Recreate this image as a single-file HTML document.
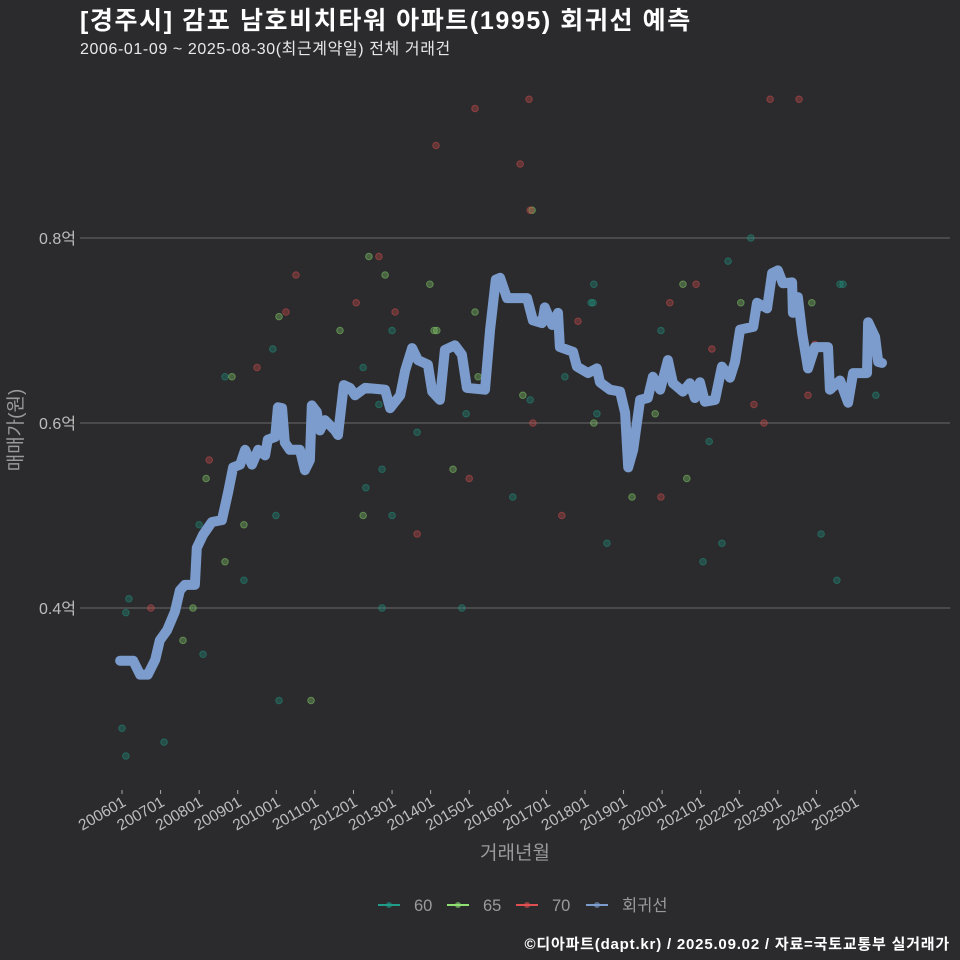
<!DOCTYPE html>
<html><head><meta charset="utf-8">
<style>
html,body{margin:0;padding:0;background:#2b2b2d;}
svg{display:block;font-family:"Liberation Sans","Noto Sans CJK KR",sans-serif;}
</style></head>
<body>
<svg id="chart" width="960" height="960" viewBox="0 0 960 960">
<rect x="0" y="0" width="960" height="960" fill="#2b2b2d"/>
<text x="80" y="29" fill="#ffffff" font-size="25" font-weight="bold" letter-spacing="1.6">[경주시] 감포 남호비치타워 아파트(1995) 회귀선 예측</text>
<text x="80" y="54" fill="#e8e8e8" font-size="16" letter-spacing="0.6">2006-01-09 ~ 2025-08-30(최근계약일) 전체 거래건</text>
<g id="grid"></g>
<g id="yticks"></g>
<g id="xticks"></g>
<g id="points"></g>
<g id="reg"></g>
<text x="22" y="430" fill="#9a9a9a" font-size="19" text-anchor="middle" transform="rotate(-90 22 430)">매매가(원)</text>
<text x="515" y="859" fill="#9a9a9a" font-size="19" text-anchor="middle">거래년월</text>
<g id="legend"></g>
<text x="950" y="949" fill="#ffffff" font-size="15" font-weight="bold" letter-spacing="0.8" text-anchor="end">©디아파트(dapt.kr) / 2025.09.02 / 자료=국토교통부 실거래가</text>
</svg>
<script>
const yTicks = [0.4, 0.6, 0.8];
const yTickLabels = ["0.4억", "0.6억", "0.8억"];
const xTickYears = [2006,2007,2008,2009,2010,2011,2012,2013,2014,2015,2016,2017,2018,2019,2020,2021,2022,2023,2024,2025];
const xTickLabels = ["200601","200701","200801","200901","201001","201101","201201","201301","201401","201501","201601","201701","201801","201901","202001","202101","202201","202301","202401","202501"];
const seriesNames = ["60","65","70","회귀선"];
const series60 = [[2006.00,0.27],[2006.10,0.395],[2006.10,0.24],[2006.18,0.41],[2007.09,0.255],[2008.00,0.49],[2008.10,0.35],[2008.67,0.65],[2009.16,0.43],[2009.91,0.68],[2009.99,0.50],[2010.07,0.30],[2012.25,0.66],[2012.32,0.53],[2012.66,0.62],[2012.74,0.40],[2012.74,0.55],[2013.00,0.70],[2013.00,0.50],[2013.65,0.59],[2014.81,0.40],[2014.92,0.61],[2016.13,0.52],[2017.48,0.65],[2016.58,0.625],[2018.16,0.73],[2018.21,0.73],[2018.23,0.75],[2018.31,0.61],[2018.57,0.47],[2019.97,0.70],[2021.06,0.45],[2021.22,0.58],[2021.55,0.47],[2021.71,0.775],[2022.30,0.80],[2024.12,0.48],[2024.53,0.43],[2024.61,0.75],[2024.69,0.75],[2025.54,0.63]];
const series65 = [[2007.58,0.365],[2007.84,0.40],[2008.18,0.54],[2008.67,0.45],[2008.85,0.65],[2009.16,0.49],[2010.07,0.715],[2010.90,0.30],[2011.65,0.70],[2012.25,0.50],[2012.40,0.78],[2012.82,0.76],[2013.98,0.75],[2014.09,0.70],[2014.16,0.70],[2014.58,0.55],[2015.15,0.72],[2015.23,0.65],[2016.39,0.63],[2016.63,0.83],[2018.23,0.60],[2019.22,0.52],[2019.82,0.61],[2020.54,0.75],[2020.64,0.54],[2022.04,0.73],[2023.88,0.73]];
const series70 = [[2006.75,0.40],[2008.26,0.56],[2009.50,0.66],[2010.25,0.72],[2010.51,0.76],[2012.07,0.73],[2012.66,0.78],[2013.08,0.72],[2013.65,0.48],[2014.14,0.90],[2015.00,0.54],[2015.15,0.94],[2016.32,0.88],[2016.55,0.95],[2016.58,0.83],[2016.65,0.60],[2017.40,0.50],[2017.82,0.71],[2019.97,0.52],[2020.20,0.73],[2020.88,0.75],[2021.29,0.68],[2022.38,0.62],[2022.64,0.60],[2022.80,0.95],[2023.55,0.95],[2023.78,0.63],[2023.96,0.685]];
const regYears = [2005.95,2006.29,2006.47,2006.67,2006.86,2006.98,2007.17,2007.37,2007.50,2007.63,2007.89,2007.94,2008.10,2008.33,2008.59,2008.75,2008.88,2009.06,2009.19,2009.37,2009.53,2009.71,2009.78,2009.97,2010.04,2010.15,2010.22,2010.35,2010.61,2010.74,2010.87,2010.92,2011.05,2011.13,2011.26,2011.52,2011.60,2011.75,2011.91,2012.04,2012.30,2012.82,2012.95,2013.21,2013.34,2013.52,2013.67,2013.93,2014.04,2014.24,2014.37,2014.63,2014.81,2014.94,2015.41,2015.54,2015.69,2015.80,2015.98,2016.50,2016.65,2016.89,2016.96,2017.15,2017.30,2017.35,2017.69,2017.79,2018.08,2018.31,2018.39,2018.65,2018.91,2019.04,2019.12,2019.25,2019.43,2019.63,2019.76,2019.95,2020.15,2020.28,2020.54,2020.72,2020.85,2020.98,2021.11,2021.37,2021.55,2021.76,2021.89,2022.02,2022.36,2022.46,2022.72,2022.85,2023.00,2023.13,2023.37,2023.39,2023.52,2023.63,2023.78,2023.96,2024.30,2024.35,2024.61,2024.82,2024.95,2025.31,2025.34,2025.52,2025.60,2025.70];
const regValues = [0.343,0.343,0.328,0.328,0.344,0.365,0.376,0.396,0.419,0.425,0.425,0.465,0.479,0.493,0.495,0.525,0.552,0.555,0.571,0.555,0.571,0.565,0.582,0.585,0.617,0.616,0.579,0.571,0.571,0.549,0.560,0.619,0.612,0.592,0.603,0.592,0.587,0.641,0.638,0.630,0.638,0.636,0.616,0.630,0.657,0.681,0.668,0.663,0.634,0.625,0.679,0.684,0.674,0.638,0.636,0.701,0.755,0.757,0.735,0.735,0.711,0.708,0.725,0.706,0.719,0.682,0.677,0.661,0.654,0.659,0.644,0.636,0.634,0.611,0.552,0.571,0.625,0.627,0.650,0.636,0.668,0.643,0.634,0.643,0.627,0.644,0.623,0.625,0.661,0.649,0.666,0.701,0.704,0.730,0.724,0.762,0.765,0.751,0.752,0.719,0.736,0.697,0.659,0.682,0.682,0.636,0.646,0.622,0.654,0.654,0.709,0.693,0.666,0.665];

const NS = "http://www.w3.org/2000/svg";
function xScale(yr){ return 122 + (yr - 2006) * 38.58; }
function yScale(v){ return 238 + (0.8 - v) * 925; }
function mk(tag, attrs, parent){ const e = document.createElementNS(NS, tag); for (const k in attrs) e.setAttribute(k, attrs[k]); parent.appendChild(e); return e; }

const grid = document.getElementById('grid');
const yg = document.getElementById('yticks');
yTicks.forEach((v, i) => {
  const l = mk('line', {x1: 80, x2: 950, y1: yScale(v), y2: yScale(v), stroke: '#6a6a6a', 'stroke-width': 1}, grid);
  
  
  const t = mk('text', {x: 76, y: yScale(v) + 6, fill: '#bdbdbd', 'font-size': 16, 'text-anchor': 'end'}, yg);
  t.textContent = yTickLabels[i];
  
  
});
const xg = document.getElementById('xticks');
xTickYears.forEach((yr, i) => {
  const x = xScale(yr);
  const tk = mk('line', {x1: x, x2: x, y1: 790, y2: 794, stroke: '#aaaaaa', 'stroke-width': 1}, xg);
  
  
  const t = mk('text', {x: x + 5, y: 805, fill: '#bdbdbd', 'font-size': 15.5, 'text-anchor': 'end', transform: 'rotate(-30 ' + (x + 5) + ' 805)'}, xg);
  t.textContent = xTickLabels[i];
  
  
});

const pg = document.getElementById('points');
const pts = [[series60, '#1f9d88', 'point-60'], [series65, '#8fe070', 'point-65'], [series70, '#e05050', 'point-70']];
pts.forEach(([data, col, nm]) => {
  data.forEach(d => {
    const c = mk('circle', {cx: xScale(d[0]), cy: yScale(d[1]), r: 3.3, fill: col, 'fill-opacity': 0.3, stroke: col, 'stroke-opacity': 0.45, 'stroke-width': 1}, pg);
    
    
  });
});

const rg = document.getElementById('reg');
const dstr = regYears.map((yr, i) => (i ? 'L' : 'M') + xScale(yr).toFixed(1) + ' ' + yScale(regValues[i]).toFixed(1)).join(' ');
const path = mk('path', {d: dstr, fill: 'none', stroke: '#7b9ccc', 'stroke-width': 10, 'stroke-linejoin': 'round', 'stroke-linecap': 'round'}, rg);



const lg = document.getElementById('legend');
const lcols = ['#1f9d88', '#8fe070', '#e05050', '#7b9ccc'];
const lx = [378, 447, 516, 586];
seriesNames.forEach((n, i) => {
  const g = mk('g', {}, lg);
  
  
  mk('line', {x1: lx[i], x2: lx[i] + 22, y1: 905, y2: 905, stroke: lcols[i], 'stroke-width': 2}, g);
  mk('circle', {cx: lx[i] + 11, cy: 905, r: 3, fill: lcols[i], 'fill-opacity': 0.6}, g);
  const t = mk('text', {x: lx[i] + 36, y: 911, fill: '#9a9a9a', 'font-size': 16.5}, g);
  t.textContent = n;
});
</script>
</body></html>
